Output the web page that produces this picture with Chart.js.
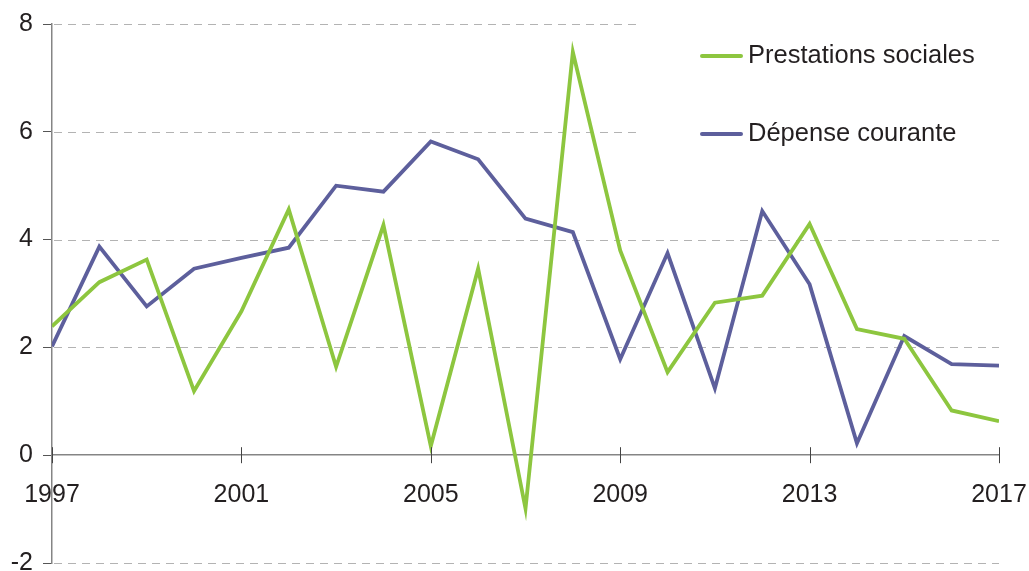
<!DOCTYPE html>
<html><head><meta charset="utf-8">
<script src="https://cdn.jsdelivr.net/npm/chart.js@4/dist/chart.umd.min.js"></script>
<style>html,body{margin:0;padding:0;background:#fff;overflow:hidden}#wrap{width:1029px;height:571px;position:relative}</style>
</head><body><div id="wrap"><canvas id="c" width="1029" height="571"></canvas></div>
<script>
const years = [1997,1998,1999,2000,2001,2002,2003,2004,2005,2006,2007,2008,2009,2010,2011,2012,2013,2014,2015,2016,2017];
const prestations = [2.39,3.21,3.63,1.19,2.67,4.56,1.64,4.27,0.17,3.46,-0.99,7.48,3.80,1.54,2.83,2.96,4.29,2.34,2.16,0.83,0.63];
const depense = [2.02,3.87,2.76,3.46,3.66,3.85,5.00,4.89,5.82,5.49,4.39,4.14,1.78,3.75,1.24,4.53,3.17,0.22,2.21,1.69,1.66];
const seriesLabels = ['Prestations sociales','Dépense courante'];
const seriesColors = ['#8dc63f','#5d5f9c'];
const yMin = -2, yMax = 8, yStep = 2;
const xMin = 1997, xMax = 2017, xStep = 4;

const FONT = "'Liberation Sans', Arial, sans-serif";
const TEXT = '#231f20';

const gridPlugin = {
  id: 'customGrid',
  beforeDatasetsDraw(chart, args, opts) {
    const {ctx, chartArea, scales} = chart;
    const y = scales.y, x = scales.x;
    ctx.save();
    ctx.strokeStyle = opts.color;
    ctx.lineWidth = 1;
    ctx.setLineDash(opts.dash);
    y.ticks.forEach(t => {
      if (t.value === 0) return;
      const py = Math.round(y.getPixelForValue(t.value)) + 0.5;
      const xEnd = t.value >= opts.cutFrom ? x.getPixelForValue(opts.cutAt) : chartArea.right;
      ctx.beginPath();
      ctx.moveTo(chartArea.left + 2, py);
      ctx.lineTo(xEnd, py);
      ctx.stroke();
    });
    ctx.restore();
  },
  afterDraw(chart, args, opts) {
    const {ctx, scales} = chart;
    const y0 = scales.y.getPixelForValue(0);
    ctx.save();
    ctx.strokeStyle = opts.tickColor;
    ctx.lineWidth = 1;
    scales.x.ticks.forEach(t => {
      const px = Math.round(scales.x.getPixelForValue(t.value)) + 0.5;
      ctx.beginPath();
      ctx.moveTo(px, y0 - 8);
      ctx.lineTo(px, y0 + 8);
      ctx.stroke();
    });
    ctx.restore();
  }
};

const legendPlugin = {
  id: 'insideLegend',
  afterDraw(chart, args, opts) {
    const {ctx} = chart;
    ctx.save();
    chart.data.datasets.forEach((ds, i) => {
      const yy = opts.top + i * opts.spacing;
      ctx.strokeStyle = ds.borderColor;
      ctx.lineWidth = 4;
      ctx.lineCap = 'round';
      ctx.beginPath();
      ctx.moveTo(opts.left, yy);
      ctx.lineTo(opts.left + opts.lineLen, yy);
      ctx.stroke();
      ctx.fillStyle = TEXT;
      ctx.font = opts.font;
      ctx.textBaseline = 'middle';
      ctx.textAlign = 'left';
      ctx.fillText(ds.label, opts.left + opts.lineLen + opts.gap, yy);
    });
    ctx.restore();
  }
};

const toPoints = arr => years.map((yr, i) => ({x: yr, y: arr[i]}));

new Chart(document.getElementById('c'), {
  type: 'line',
  data: {
    datasets: [
      {label: seriesLabels[0], data: toPoints(prestations), borderColor: seriesColors[0], borderWidth: 3.8, pointRadius: 0, tension: 0, borderJoinStyle: 'miter'},
      {label: seriesLabels[1], data: toPoints(depense), borderColor: seriesColors[1], borderWidth: 3.8, pointRadius: 0, tension: 0, borderJoinStyle: 'miter'}
    ]
  },
  options: {
    responsive: false,
    animation: false,
    devicePixelRatio: 1,
    layout: {padding: {top: 24, right: 30, bottom: 8, left: 0}},
    scales: {
      x: {
        type: 'linear', min: xMin, max: xMax,
        position: {y: 0},
        grid: {display: false, drawTicks: false},
        border: {display: true, color: '#858585', width: 1.5},
        ticks: {stepSize: xStep, padding: 25, color: TEXT, font: {family: FONT, size: 25, lineHeight: 1.2}, maxRotation: 0, autoSkip: false, callback: v => String(v)},
        afterFit(scale) { scale.paddingLeft = 0; scale.paddingRight = 0; scale.paddingTop = 0; scale.paddingBottom = 0; scale.height = 0; }
      },
      y: {
        min: yMin, max: yMax,
        grid: {drawOnChartArea: false, drawTicks: true, tickLength: 9, tickColor: '#555', tickWidth: 1},
        border: {display: true, color: '#858585', width: 1.5},
        ticks: {stepSize: yStep, padding: 10, color: TEXT, font: {family: FONT, size: 25, lineHeight: 1}},
        afterFit(scale) { scale.width = 52; scale.paddingTop = 0; scale.paddingBottom = 0; }
      }
    },
    plugins: {
      legend: {display: false},
      tooltip: {enabled: false},
      customGrid: {color: '#b3b3b3', dash: [8, 6], cutFrom: 6, cutAt: 2009.35, tickColor: '#444'},
      insideLegend: {left: 702, top: 56, spacing: 78, lineLen: 39, gap: 7, font: "25.5px " + FONT}
    }
  },
  plugins: [gridPlugin, legendPlugin]
});
</script>
</body></html>
